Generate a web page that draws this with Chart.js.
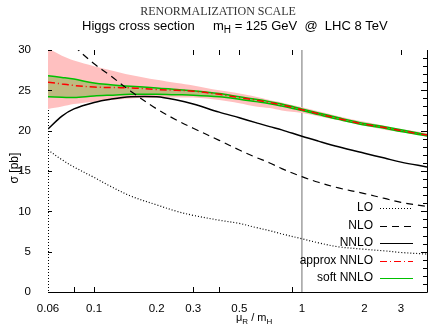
<!DOCTYPE html>
<html>
<head>
<meta charset="utf-8">
<script src="https://cdn.jsdelivr.net/npm/chart.js@4/dist/chart.umd.min.js"></script>
<style>
    html, body { margin: 0; padding: 0; background: #fff; }
    #box { width: 428px; height: 329px; position: relative; }
</style>
</head>
<body>
<div id="box"><canvas id="chart"></canvas></div>
<script>
// renormalization scale mu_R / m_H
const mu = [0.06, 0.07, 0.08, 0.1, 0.12, 0.15, 0.2, 0.25, 0.3, 0.4, 0.5, 0.6, 0.7, 0.8, 1, 1.2, 1.5, 2, 2.5, 3, 4];

const lo = [17.6, 16.4, 15.5, 14.2, 13.1, 11.9, 10.8, 10.0, 9.5, 8.9, 8.5, 8.0, 7.6, 7.2, 6.6, 6.1, 5.6, 5.3, 5.1, 4.9, 4.7];
const nlo = [35.5, 33.0, 30.6, 28.3, 26.8, 24.9, 22.7, 21.3, 20.3, 18.8, 17.6, 16.7, 16.0, 15.3, 14.3, 13.6, 12.9, 12.2, 11.6, 11.1, 10.6];
const nnlo = [20.2, 21.8, 22.7, 23.5, 23.9, 24.2, 24.2, 23.8, 23.3, 22.3, 21.6, 21.0, 20.5, 20.1, 19.3, 18.7, 18.0, 17.2, 16.6, 16.1, 15.5];

// approx NNLO: central value and scale band
const approx = [26.0, 25.8, 25.6, 25.4, 25.35, 25.3, 25.1, 25.0, 24.9, 24.5, 24.1, 23.8, 23.5, 23.2, 22.6, 22.1, 21.5, 20.8, 20.4, 20.0, 19.45];
const approxHi = [30.2, 29.3, 28.7, 28.0, 27.5, 26.9, 26.3, 25.9, 25.6, 25.0, 24.6, 24.2, 23.8, 23.5, 22.9, 22.4, 21.8, 21.1, 20.6, 20.2, 19.7];
const approxLo = [22.7, 23.0, 23.3, 23.6, 23.8, 24.0, 24.1, 24.1, 24.1, 23.8, 23.4, 23.0, 22.8, 22.5, 22.2, 21.8, 21.3, 20.6, 20.1, 19.8, 19.3];

// soft NNLO band
const softHi = [26.8, 26.6, 26.4, 25.9, 25.7, 25.5, 25.3, 25.1, 24.95, 24.6, 24.2, 23.9, 23.6, 23.3, 22.7, 22.2, 21.6, 20.9, 20.5, 20.1, 19.5];
const softLo = [24.2, 24.15, 24.1, 24.3, 24.4, 24.5, 24.5, 24.45, 24.4, 24.2, 23.9, 23.6, 23.35, 23.05, 22.5, 22.0, 21.4, 20.7, 20.3, 19.9, 19.35];

const refMu = [1, 1];
const refSigma = [0, 30];

const xLabels = [0.06, 0.1, 0.2, 0.3, 0.5, 1, 2, 3];
const xTicksBottom = [0.08, 0.1, 0.3, 0.4, 0.9];
const xTicksTop = [0.1, 0.3, 0.4, 0.5, 0.9, 3];

const legendItems = [
    { label: "LO", color: "#000", dash: [1, 2] },
    { label: "NLO", color: "#000", dash: [7, 5] },
    { label: "NNLO", color: "#000", dash: [] },
    { label: "approx NNLO", color: "#ff0000", dash: [7, 3, 1, 3] },
    { label: "soft NNLO", color: "#00c000", dash: [] },
];

const FONT = '"Liberation Sans", Arial, sans-serif';

function pts(ys) {
    return mu.map((m, i) => ({ x: m, y: ys[i] }));
}

const decorations = {
    id: "decorations",
    afterDraw(chart) {
        const ctx = chart.ctx;
        const area = chart.chartArea;
        const xs = chart.scales.x;
        const ys = chart.scales.y;
        ctx.save();

        // frame: bottom and right solid, left dotted
        ctx.strokeStyle = "#000";
        ctx.lineWidth = 1;
        ctx.beginPath();
        ctx.moveTo(area.left, area.bottom + 0.5);
        ctx.lineTo(area.right + 0.5, area.bottom + 0.5);
        ctx.lineTo(area.right + 0.5, area.top);
        ctx.stroke();
        ctx.setLineDash([1, 2]);
        ctx.beginPath();
        ctx.moveTo(area.left + 0.5, area.top + 60);
        ctx.lineTo(area.left + 0.5, area.bottom);
        ctx.stroke();
        ctx.setLineDash([]);

        // inward ticks
        ctx.beginPath();
        xTicksBottom.forEach((v) => {
            const x = Math.round(xs.getPixelForValue(v)) + 0.5;
            ctx.moveTo(x, area.bottom);
            ctx.lineTo(x, area.bottom - 5);
        });
        xTicksTop.forEach((v) => {
            const x = Math.round(xs.getPixelForValue(v)) + 0.5;
            ctx.moveTo(x, area.top);
            ctx.lineTo(x, area.top + 5);
        });
        for (let v = 0; v <= 30; v += 5) {
            const y = Math.round(ys.getPixelForValue(v)) + 0.5;
            ctx.moveTo(area.left, y);
            ctx.lineTo(area.left + 4, y);
        }
        for (let v = 1; v < 30; v += 1) {
            const y = Math.round(ys.getPixelForValue(v)) + 0.5;
            ctx.moveTo(area.right, y);
            ctx.lineTo(area.right - (v % 5 === 0 ? 6 : 4), y);
        }
        ctx.stroke();

        // titles
        ctx.fillStyle = "#333";
        ctx.font = '12px "Liberation Serif", serif';
        ctx.textAlign = "center";
        ctx.textBaseline = "alphabetic";
        ctx.fillText("RENORMALIZATION SCALE", 218, 15);

        ctx.fillStyle = "#000";
        ctx.textAlign = "left";
        ctx.font = "13px " + FONT;
        ctx.fillText("Higgs cross section", 82, 30);
        let x = 213;
        ctx.fillText("m", x, 30);
        x += ctx.measureText("m").width;
        ctx.font = "10px " + FONT;
        ctx.fillText("H", x, 33);
        x += ctx.measureText("H").width;
        ctx.font = "13px " + FONT;
        ctx.fillText(" = 125 GeV  @  LHC 8 TeV", x, 30);

        // axis titles
        ctx.font = "11px " + FONT;
        x = 236;
        ctx.fillText("\u03bc", x, 321);
        x += ctx.measureText("\u03bc").width;
        ctx.font = "8px " + FONT;
        ctx.fillText("R", x, 324);
        x += ctx.measureText("R").width;
        ctx.font = "11px " + FONT;
        ctx.fillText(" / m", x, 321);
        x += ctx.measureText(" / m").width;
        ctx.font = "8px " + FONT;
        ctx.fillText("H", x, 324);

        ctx.save();
        ctx.translate(15, 168);
        ctx.rotate(-Math.PI / 2);
        ctx.textAlign = "center";
        ctx.textBaseline = "middle";
        ctx.font = "12px " + FONT;
        ctx.fillText("\u03c3 [pb]", 0, 0);
        ctx.restore();

        // legend inside the plot
        ctx.textAlign = "right";
        ctx.textBaseline = "middle";
        ctx.font = "12px " + FONT;
        legendItems.forEach((item, i) => {
            const y = 208 + i * 17.5;
            ctx.fillStyle = "#000";
            ctx.fillText(item.label, 373, y);
            ctx.strokeStyle = item.color;
            ctx.lineWidth = 1.2;
            ctx.setLineDash(item.dash);
            ctx.beginPath();
            ctx.moveTo(380, Math.round(y) + 0.5);
            ctx.lineTo(413, Math.round(y) + 0.5);
            ctx.stroke();
        });
        ctx.restore();
    },
};

new Chart(document.getElementById("chart"), {
    type: "line",
    data: {
        datasets: [
            {
                label: "reference",
                data: refMu.map((m, i) => ({ x: m, y: refSigma[i] })),
                borderColor: "#a0a0a0",
                borderWidth: 1.5,
                tension: 0,
                order: 20,
            },
            {
                label: "approx NNLO upper",
                data: pts(approxHi),
                borderWidth: 0,
                borderColor: "rgba(0,0,0,0)",
                backgroundColor: "rgb(255,192,192)",
                fill: "+1",
                order: 12,
            },
            {
                label: "approx NNLO lower",
                data: pts(approxLo),
                borderWidth: 0,
                borderColor: "rgba(0,0,0,0)",
                fill: false,
                order: 11,
            },
            {
                label: "soft NNLO upper",
                data: pts(softHi),
                borderColor: "#00c000",
                borderWidth: 1.5,
                backgroundColor: "rgb(190,186,128)",
                fill: "+1",
                order: 8,
            },
            {
                label: "soft NNLO lower",
                data: pts(softLo),
                borderColor: "#00c000",
                borderWidth: 1.5,
                fill: false,
                order: 7,
            },
            {
                label: "approx NNLO",
                data: pts(approx),
                borderColor: "#ff0000",
                borderWidth: 1.5,
                borderDash: [7, 3, 1, 3],
                fill: false,
                order: 1,
            },
            {
                label: "LO",
                data: pts(lo),
                borderColor: "#000",
                borderWidth: 1.2,
                borderDash: [1, 2],
                fill: false,
                order: 3,
            },
            {
                label: "NLO",
                data: pts(nlo),
                borderColor: "#000",
                borderWidth: 1.2,
                borderDash: [7, 5],
                fill: false,
                order: 3,
            },
            {
                label: "NNLO",
                data: pts(nnlo),
                borderColor: "#000",
                borderWidth: 1.5,
                fill: false,
                order: 3,
            },
        ],
    },
    options: {
        responsive: true,
        maintainAspectRatio: false,
        animation: false,
        layout: { padding: { left: 0, right: 1, top: 50, bottom: 0 } },
        elements: {
            point: { radius: 0 },
            line: { tension: 0.35 },
        },
        plugins: {
            legend: { display: false },
            tooltip: { enabled: false },
        },
        scales: {
            x: {
                type: "logarithmic",
                min: 0.06,
                max: 4,
                grid: { display: false },
                border: { display: false },
                afterBuildTicks: (scale) => {
                    scale.ticks = xLabels.map((v) => ({ value: v }));
                },
                afterFit: (scale) => {
                    scale.height = 37;
                },
                ticks: {
                    autoSkip: false,
                    maxRotation: 0,
                    padding: 2,
                    color: "#000",
                    font: { family: FONT, size: 11.5 },
                    callback: (value) => String(value),
                },
            },
            y: {
                min: 0,
                max: 30,
                grid: { display: false },
                border: { display: false },
                afterFit: (scale) => {
                    scale.width = 48;
                },
                ticks: {
                    stepSize: 5,
                    padding: 9,
                    color: "#000",
                    font: { family: FONT, size: 11.5 },
                },
            },
        },
    },
    plugins: [decorations],
});
</script>
</body>
</html>
